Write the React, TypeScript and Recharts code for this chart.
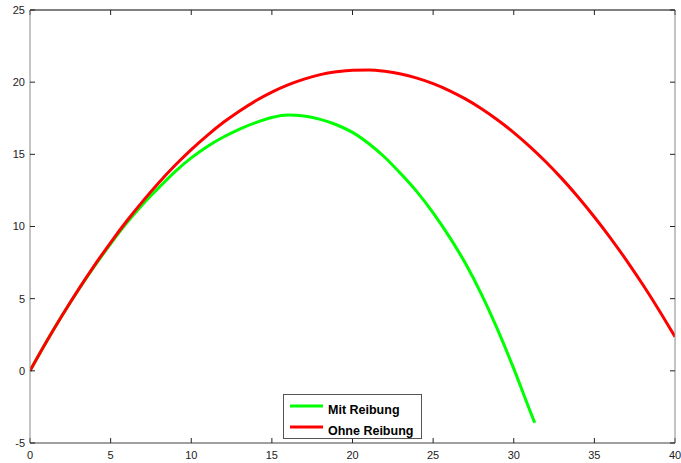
import React from 'react';
import { LineChart, Line, XAxis, YAxis, Legend } from 'recharts';

const xTicks = [0, 5, 10, 15, 20, 25, 30, 35, 40];
const yTicks = [-5, 0, 5, 10, 15, 20, 25];

const ohneX = [0, 1, 2, 3, 4, 5, 6, 7, 8, 9, 10, 11, 12, 13, 14, 15, 16, 17, 18, 19, 20, 21, 22, 23, 24, 25, 26, 27, 28, 29, 30, 31, 32, 33, 34, 35, 36, 37, 38, 39, 40];
const ohneY = [0, 1.98, 3.85, 5.63, 7.31, 8.89, 10.38, 11.76, 13.05, 14.24, 15.33, 16.32, 17.22, 18.01, 18.71, 19.31, 19.81, 20.21, 20.52, 20.72, 20.83, 20.84, 20.75, 20.57, 20.28, 19.9, 19.42, 18.84, 18.16, 17.38, 16.51, 15.54, 14.47, 13.3, 12.03, 10.66, 9.2, 7.64, 5.98, 4.22, 2.36];

const mitX = [0, 1, 2, 3, 4, 5, 6, 7, 8, 9, 10, 11, 12, 13, 14, 15, 16, 17, 18, 19, 20, 21, 22, 23, 24, 25, 26, 27, 28, 29, 30, 31, 31.3];
const mitY = [0, 1.98, 3.85, 5.6, 7.25, 8.8, 10.25, 11.55, 12.7, 13.8, 14.75, 15.55, 16.2, 16.75, 17.2, 17.55, 17.72, 17.65, 17.42, 17.05, 16.52, 15.75, 14.8, 13.65, 12.4, 10.95, 9.3, 7.45, 5.3, 2.85, 0.15, -2.75, -3.6];

const ohneData = ohneX.map((x, i) => ({ x, y: ohneY[i] }));
const mitData = mitX.map((x, i) => ({ x, y: mitY[i] }));

const seriesNames = ['Mit Reibung', 'Ohne Reibung'];
const seriesColors = ['#00ff00', '#ff0000'];

const tickStyle = { fontFamily: '"Liberation Sans", Arial, sans-serif', fontSize: 11, fill: '#222' };

function LegendBox() {
  return (
    <svg width={140} height={46} style={{ display: 'block' }}>
      <rect x={0.5} y={0.5} width={138} height={44} fill="#fff" stroke="#555" strokeWidth={1} />
      {seriesNames.map((name, i) => (
        <g key={name}>
          <line x1={7} x2={40} y1={12 + i * 21} y2={12 + i * 21} stroke={seriesColors[i]} strokeWidth={3} />
          <text x={45} y={20 + i * 21} fontFamily='"Liberation Sans", Arial, sans-serif' fontWeight="bold" fontSize={12.5} fill="#000">
            {name}
          </text>
        </g>
      ))}
    </svg>
  );
}

export default function App() {
  return (
    <div style={{ position: 'absolute', left: 0, top: 0, width: 681, height: 463, background: '#fff' }}>
      <LineChart width={681} height={463} margin={{ top: 9, right: 5, left: 29, bottom: 19 }}>
        <XAxis
          xAxisId={0}
          type="number"
          dataKey="x"
          domain={[0, 40]}
          ticks={xTicks}
          allowDataOverflow
          height={1}
          tickSize={-5}
          tickMargin={13}
          axisLine={{ stroke: '#404040' }}
          tickLine={{ stroke: '#222' }}
          tick={tickStyle}
          interval={0}
        />
        <XAxis
          xAxisId="top"
          orientation="top"
          type="number"
          dataKey="x"
          domain={[0, 40]}
          ticks={xTicks}
          allowDataOverflow
          height={1}
          tickSize={-5}
          axisLine={{ stroke: '#000' }}
          tickLine={{ stroke: '#222' }}
          tickFormatter={() => ''}
          interval={0}
        />
        <YAxis
          yAxisId={0}
          type="number"
          domain={[-5, 25]}
          ticks={yTicks}
          allowDataOverflow
          width={1}
          tickSize={-5}
          tickMargin={10}
          axisLine={{ stroke: '#888' }}
          tickLine={{ stroke: '#222' }}
          tick={tickStyle}
          interval={0}
        />
        <YAxis
          yAxisId="right"
          orientation="right"
          type="number"
          domain={[-5, 25]}
          ticks={yTicks}
          allowDataOverflow
          width={1}
          tickSize={-5}
          axisLine={{ stroke: '#888' }}
          tickLine={{ stroke: '#222' }}
          tickFormatter={() => ''}
          interval={0}
        />
        <Line
          data={mitData}
          dataKey="y"
          name={seriesNames[0]}
          type="monotone"
          stroke={seriesColors[0]}
          strokeWidth={3}
          dot={false}
          isAnimationActive={false}
        />
        <Line
          data={ohneData}
          dataKey="y"
          name={seriesNames[1]}
          type="monotone"
          stroke={seriesColors[1]}
          strokeWidth={3}
          dot={false}
          isAnimationActive={false}
        />
        <Legend
          layout="vertical"
          align="center"
          verticalAlign="middle"
          content={() => <LegendBox />}
          wrapperStyle={{ position: 'absolute', left: 283, top: 394, width: 140, height: 46 }}
        />
      </LineChart>
    </div>
  );
}
